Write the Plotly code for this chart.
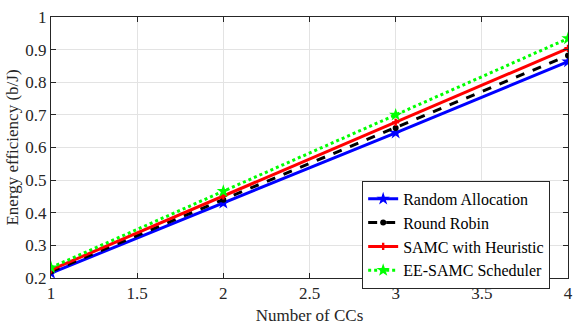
import plotly.graph_objects as go

num_ccs = [1, 2, 3, 4]
random_alloc = [0.215, 0.430, 0.645, 0.863]
round_robin = [0.220, 0.440, 0.660, 0.882]
samc_heuristic = [0.225, 0.452, 0.677, 0.904]
ee_samc = [0.232, 0.466, 0.700, 0.934]

x_ticks = [1, 1.5, 2, 2.5, 3, 3.5, 4]
y_ticks = [0.2, 0.3, 0.4, 0.5, 0.6, 0.7, 0.8, 0.9, 1]

font_family = "Times New Roman, Liberation Serif, serif"

fig = go.Figure()
series = [
    ("Random Allocation", random_alloc, "#0000ff", "solid", "star", 10),
    ("Round Robin", round_robin, "#000000", "dash", "circle", 6),
    ("SAMC with Heuristic", samc_heuristic, "#ff0000", "solid", "cross", 6),
    ("EE-SAMC Scheduler", ee_samc, "#00ff00", "dot", "star", 10),
]
for name, vals, color, dash, sym, size in series:
    fig.add_trace(go.Scatter(
        x=num_ccs, y=vals, name=name, mode="lines+markers",
        line=dict(color=color, width=3, dash=dash),
        marker=dict(color=color, symbol=sym, size=size),
    ))

axis_common = dict(
    showline=True, linecolor="#262626", linewidth=1, mirror="ticks",
    ticks="inside", ticklen=5, tickcolor="#262626",
    showgrid=True, gridcolor="#e3e3e3", gridwidth=1,
    zeroline=False,
    tickfont=dict(family=font_family, size=17, color="#262626"),
)

fig.update_layout(
    width=581, height=329,
    margin=dict(l=51, r=8, t=11, b=49),
    paper_bgcolor="white", plot_bgcolor="white",
    font=dict(family=font_family, color="#262626"),
    xaxis=dict(range=[1, 4], tickvals=x_ticks,
               ticktext=[f"{v:g}" for v in x_ticks],
               title=dict(text="Number of CCs", font=dict(family=font_family, size=17), standoff=6),
               **axis_common),
    yaxis=dict(range=[0.2, 1], tickvals=y_ticks,
               ticktext=[f"{v:g}" for v in y_ticks],
               title=dict(text="Energy efficiency (b/J)", font=dict(family=font_family, size=17), standoff=2),
               **axis_common),
    legend=dict(
        x=0.9655, y=0.372, xanchor="right", yanchor="top",
        bgcolor="white", bordercolor="#262626", borderwidth=1,
        font=dict(family=font_family, size=16, color="#000000"),
        itemwidth=30, tracegroupgap=0,
    ),
    showlegend=True,
)

fig.write_html("out.html")
